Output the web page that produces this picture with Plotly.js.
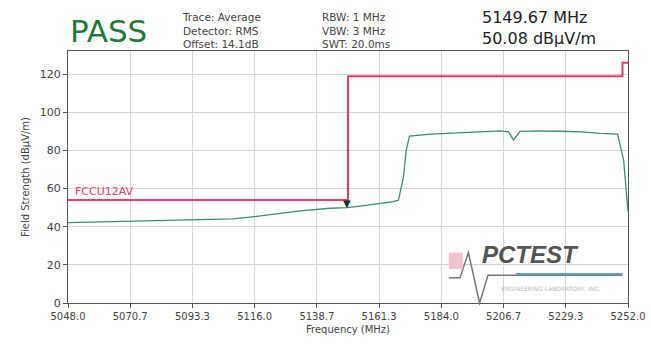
<!DOCTYPE html>
<html><head><meta charset="utf-8">
<script src="https://cdn.plot.ly/plotly-3.0.1.min.js"></script>
<style>html,body{margin:0;padding:0;background:#fff}#chart{width:651px;height:346px}</style>
</head><body><div id="chart"></div>
<script>
// Measured trace (frequency MHz, level dBuV/m)
const traceFreq = [5048, 5070.7, 5093.3, 5108, 5116, 5125, 5132.5, 5143.5, 5149.67, 5155, 5160, 5164.5, 5166.5, 5168.4, 5170.2, 5171.2, 5172.4, 5180, 5190, 5198, 5205.5, 5208.5, 5210.3, 5212.7, 5220, 5227, 5235, 5241.9, 5248.2, 5250.4, 5252];
const traceLevel = [42.2, 43.0, 43.6, 44.1, 45.3, 46.8, 48.3, 49.7, 50.08, 51.0, 51.8, 52.5, 53.2, 54.0, 66.0, 80.0, 87.5, 88.6, 89.3, 89.8, 90.3, 89.8, 85.5, 90.0, 90.3, 90.1, 89.8, 89.0, 88.6, 75.0, 48.0];
// Limit line
const limitFreq = [5048, 5150, 5150, 5250, 5250, 5252];
const limitLevel = [54, 54, 119, 119, 126, 126];
// Marker
const markerFreq = [5149.67];
const markerLevel = [50.08];
// Axis ticks
const xTickVals = [5048.0, 5070.667, 5093.333, 5116.0, 5138.667, 5161.333, 5184.0, 5206.667, 5229.333, 5252.0];
const xTickText = ["5048.0", "5070.7", "5093.3", "5116.0", "5138.7", "5161.3", "5184.0", "5206.7", "5229.3", "5252.0"];
const yTickVals = [0, 20, 40, 60, 80, 100, 120];

const font = "DejaVu Sans, sans-serif";
const data = [
  {x: limitFreq, y: limitLevel, mode: "lines", line: {color: "#ec3a6a", width: 2}, hoverinfo: "skip"},
  {x: traceFreq, y: traceLevel, mode: "lines", line: {color: "#3f8a7c", width: 1.3}, hoverinfo: "skip"}
];
const markerAnn = markerFreq.map((f, i) => ({
  xref: "x", yref: "y", x: f, y: markerLevel[i], xanchor: "center", yanchor: "bottom",
  text: "▼", showarrow: false, yshift: -3, font: {family: font, size: 10, color: "#10352c"}
}));
const layout = {
  width: 651, height: 346,
  margin: {l: 68, r: 23, t: 51, b: 43},
  paper_bgcolor: "#fff", plot_bgcolor: "#fff",
  showlegend: false,
  font: {family: font, size: 10, color: "#444"},
  xaxis: {
    range: [5048, 5252], tickvals: xTickVals, ticktext: xTickText,
    showgrid: true, gridcolor: "#d6d6d6", gridwidth: 1,
    showline: true, linecolor: "#555", linewidth: 1, mirror: true,
    ticks: "outside", ticklen: 4, tickcolor: "#555", zeroline: false,
    tickfont: {size: 10, color: "#444"},
    title: {text: "Frequency (MHz)", font: {size: 10, color: "#444"}, standoff: 4}
  },
  yaxis: {
    range: [0, 132.2], tickvals: yTickVals,
    showgrid: true, gridcolor: "#d6d6d6", gridwidth: 1,
    showline: true, linecolor: "#555", linewidth: 1, mirror: true,
    ticks: "outside", ticklen: 4, tickcolor: "#555", zeroline: false,
    tickfont: {size: 11, color: "#444"},
    title: {text: "Field Strength (dBµV/m)", font: {size: 10, color: "#444"}, standoff: 8}
  },
  annotations: [
    {xref: "paper", yref: "paper", x: 0.0, y: 1.0, xanchor: "left", yanchor: "bottom", text: "PASS", showarrow: false, font: {family: font, size: 31, color: "#1f7a3c"}},
    {xref: "paper", yref: "paper", x: 0.2, y: 0.995, xanchor: "left", yanchor: "bottom", align: "left", text: "Trace: Average<br>Detector: RMS<br>Offset: 14.1dB", showarrow: false, font: {family: font, size: 10.5, color: "#444"}},
    {xref: "paper", yref: "paper", x: 0.45, y: 0.995, xanchor: "left", yanchor: "bottom", align: "left", text: "RBW: 1 MHz<br>VBW: 3 MHz<br>SWT: 20.0ms", showarrow: false, font: {family: font, size: 10.5, color: "#444"}},
    {xref: "paper", yref: "paper", x: 0.735, y: 1.005, xanchor: "left", yanchor: "bottom", align: "left", text: "5149.67 MHz<br>50.08 dBµV/m", showarrow: false, font: {family: font, size: 16, color: "#222"}},
    {xref: "x", yref: "y", x: 5050, y: 54, xanchor: "left", yanchor: "bottom", text: "FCCU12AV", showarrow: false, font: {family: font, size: 11, color: "#ec3a6a"}},
    {xref: "paper", yref: "paper", x: 0.735, y: 0.13, xanchor: "left", yanchor: "bottom", text: "<b><i>PCTEST</i></b>", showarrow: false, font: {family: "Liberation Sans, sans-serif", size: 24, color: "#555"}},
    {xref: "paper", yref: "paper", x: 0.77, y: 0.035, xanchor: "left", yanchor: "bottom", text: "ENGINEERING LABORATORY, INC.", showarrow: false, font: {family: font, size: 6, color: "#bbb"}},
    ...markerAnn
  ],
  shapes: [
    {type: "path", xref: "paper", yref: "paper", path: "M 0.68 0.1 L 0.7 0.1 L 0.715 0.2 L 0.735 0.0 L 0.75 0.11 L 0.99 0.11", line: {color: "#777", width: 1.5}},
    {type: "line", xref: "paper", yref: "paper", x0: 0.8, x1: 0.99, y0: 0.115, y1: 0.115, line: {color: "#6a9cc8", width: 2}},
    {type: "rect", xref: "paper", yref: "paper", x0: 0.68, x1: 0.705, y0: 0.135, y1: 0.2, fillcolor: "#f2c4cf", line: {width: 0}}
  ]
};
Plotly.newPlot("chart", data, layout, {staticPlot: true, displayModeBar: false});
</script></body></html>
